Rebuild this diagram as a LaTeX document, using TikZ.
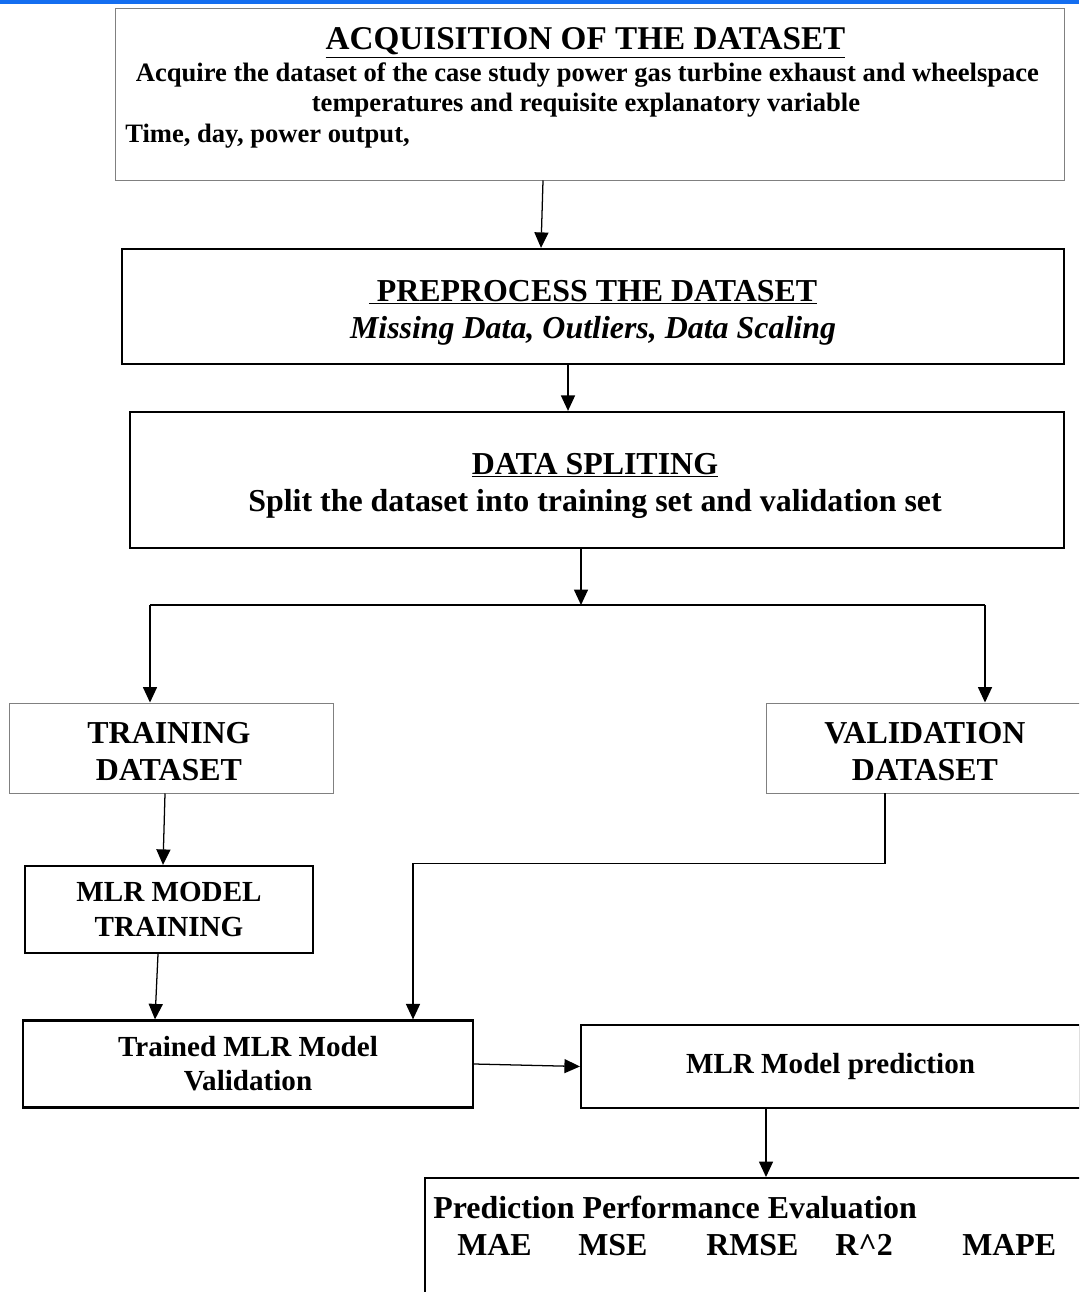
\documentclass[tikz,border=0pt]{standalone}
\usepackage{fontspec}
\setmainfont{Liberation Serif}
\usetikzlibrary{arrows.meta,positioning}
\newcommand{\px}{0.025cm}
\newcommand{\ttlfont}{\fontsize{23.6}{27}\selectfont\bfseries}
\newcommand{\hdfont}{\fontsize{22.7}{26.3}\selectfont\bfseries}
\newcommand{\mdfont}{\fontsize{20.7}{24.2}\selectfont\bfseries}
\newcommand{\smfont}{\fontsize{18.9}{21.3}\selectfont\bfseries}
\definecolor{boxgray}{RGB}{128,128,128}
\definecolor{barblue}{RGB}{20,110,240}

\begin{document}
\begin{tikzpicture}[x=\px,y=-\px,>={Triangle[length=11pt,width=10pt]},
    thinbox/.style={draw=boxgray,line width=0.7pt,inner sep=0pt,align=center},
    thickbox/.style={draw,line width=1.6pt,inner sep=0pt,align=center},
    txt/.style={inner sep=0pt,align=center},
    arr/.style={->,line width=0.9pt}]
  \useasboundingbox (0,0) rectangle (1079,1292);
  \clip (0,0) rectangle (1079,1292);
  \fill[barblue] (0,0) rectangle (1079,4);

  \node (acq) [thinbox,minimum width=949*\px,minimum height=172*\px] at (589.5,94) {};
  \node (acqhead) [txt,anchor=base,font=\ttlfont] at (585.5,50) {\underline{ACQUISITION OF THE DATASET}};
  \node (acqline1) [txt,anchor=base,font=\smfont] at (587.5,82)
     {Acquire the dataset of the case study power gas turbine exhaust and wheelspace};
  \node (acqline2) [txt,anchor=base,font=\smfont] at (586,112)
     {temperatures and requisite explanatory variable};
  \node (acqline3) [txt,anchor=base west,font=\smfont] at (125,143) {Time, day, power output,};

  \node (prep) [thickbox,minimum width=942*\px,minimum height=115*\px] at (593,306.5) {};
  \node (preptext) [txt,font=\hdfont] at (593,312.5)
     {\underline{\ PREPROCESS THE DATASET}\\ \textit{Missing Data, Outliers, Data Scaling}};
  \node (split) [thickbox,minimum width=934*\px,minimum height=136*\px] at (597,480) {};
  \node (splittext) [txt,font=\hdfont] at (595,485.5)
     {\underline{DATA SPLITING}\\ Split the dataset into training set and validation set};

  \coordinate (fork) at (581,605);
  \coordinate (forkL) at (150,605);
  \coordinate (forkR) at (985,605);

  \node (train) [thinbox,minimum width=324*\px,minimum height=90*\px] at (171,748) {};
  \node (traintext) [txt,font=\hdfont] at (169,752) {TRAINING\\DATASET};
  \node (valid) [thinbox,minimum width=320*\px,minimum height=90*\px] at (926,748) {};
  \node (validtext) [txt,font=\hdfont] at (925,752) {VALIDATION\\DATASET};
  \node (mlrtrain) [thickbox,minimum width=288*\px,minimum height=87*\px,font=\mdfont] at (169,909.5) {MLR MODEL\\TRAINING};
  \node (trained) [thickbox,minimum width=450*\px,minimum height=87*\px,font=\mdfont] at (248,1064) {Trained MLR Model\\Validation};
  \node (pred) [thickbox,minimum width=499*\px,minimum height=83*\px,font=\mdfont] at (830.5,1066.5) {MLR Model prediction};

  \node (perf) [thickbox,anchor=north west,minimum width=670*\px,minimum height=150*\px] at (424,1177) {};
  \node (perfhead) [txt,anchor=base west,font=\hdfont] at (433,1218) {Prediction Performance Evaluation};
  \node (mae) [txt,anchor=base west,font=\hdfont] at (457,1255) {MAE};
  \node (mse) [txt,anchor=base west,font=\hdfont] at (578,1255) {MSE};
  \node (rmse) [txt,anchor=base west,font=\hdfont] at (706,1255) {RMSE};
  \node (rsq) [txt,anchor=base west,font=\hdfont] at (835,1255) {R\textasciicircum 2};
  \node (mape) [txt,anchor=base west,font=\hdfont] at (962,1255) {MAPE};

  \draw[arr] (acq.south -| 543,0) -- (prep.north -| 541,0);
  \draw[arr] (prep.south -| 568,0) -- (split.north -| 568,0);
  \draw[arr] (split.south -| fork) -- (fork);
  \draw[line width=0.9pt] (forkL) -- (forkR);
  \draw[arr] (forkL) -- (train.north -| forkL);
  \draw[arr] (forkR) -- (valid.north -| forkR);
  \draw[arr] (train.south -| 165,0) -- (mlrtrain.north -| 163,0);
  \draw[arr] (mlrtrain.south -| 158,0) -- (trained.north -| 155,0);
  \draw[arr] (valid.south -| 885,0) -- ++(0,70) -| (trained.north -| 413,0);
  \draw[arr] (trained.east) -- (pred.west);
  \draw[arr] (pred.south -| 766,0) -- (perf.north -| 766,0);
\end{tikzpicture}
\end{document}
